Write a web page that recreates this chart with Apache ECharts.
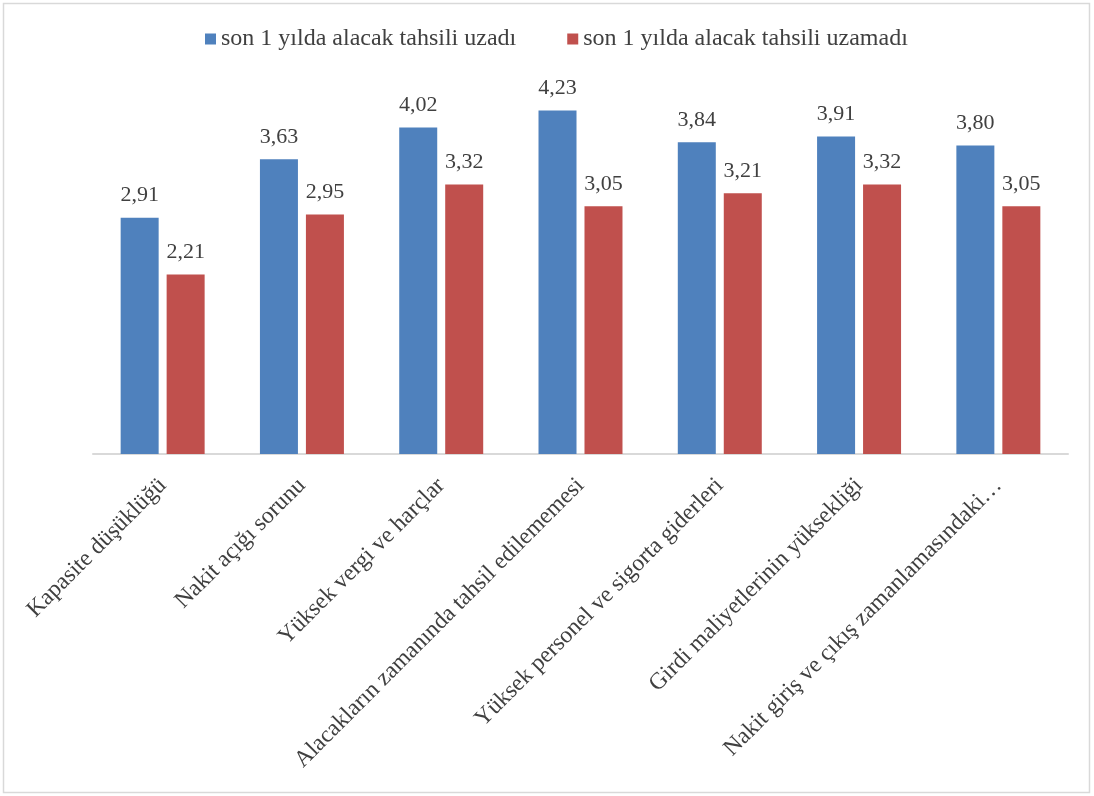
<!DOCTYPE html>
<html>
<head>
<meta charset="utf-8">
<script src="https://cdn.jsdelivr.net/npm/echarts@6/dist/echarts.min.js"></script>
<style>
  html, body { margin: 0; padding: 0; background: #fff; }
  #chart { width: 1094px; height: 796px; }
</style>
</head>
<body>
<div id="chart"></div>
<script>
// Reasons for financial difficulty, by whether receivable collection got longer in the last year
const categories = [
  'Kapasite düşüklüğü',
  'Nakit açığı sorunu',
  'Yüksek vergi ve harçlar',
  'Alacakların zamanında tahsil edilememesi',
  'Yüksek personel ve sigorta giderleri',
  'Girdi maliyetlerinin yüksekliği',
  'Nakit giriş ve çıkış zamanlamasındaki…'
];
const seriesNames = ['son 1 yılda alacak tahsili uzadı', 'son 1 yılda alacak tahsili uzamadı'];
const uzadi = [2.91, 3.63, 4.02, 4.23, 3.84, 3.91, 3.80];
const uzamadi = [2.21, 2.95, 3.32, 3.05, 3.21, 3.32, 3.05];

const serif = '"Liberation Serif", "Times New Roman", serif';
const textColor = '#404040';

const chart = echarts.init(document.getElementById('chart'));

const labelOpt = {
  show: true,
  position: 'top',
  distance: 11,
  color: textColor,
  fontFamily: serif,
  fontSize: 22,
  formatter: p => p.value.toFixed(2).replace('.', ',')
};

chart.setOption({
  backgroundColor: '#fff',
  animation: false,
  graphic: [{
    type: 'rect',
    shape: { x: 3.5, y: 3.5, width: 1086, height: 789 },
    style: { fill: 'none', stroke: '#d9d9d9', lineWidth: 1.5 },
    silent: true
  }],
  legend: {
    top: 22,
    left: 200,
    itemWidth: 11,
    itemHeight: 11,
    itemGap: 51,
    icon: 'rect',
    textStyle: { color: textColor, fontFamily: serif, fontSize: 24 },
    data: seriesNames
  },
  grid: { left: 93, right: 26, top: 48, bottom: 342, containLabel: false },
  xAxis: {
    type: 'category',
    data: categories,
    axisLine: { show: true, lineStyle: { color: '#d9d9d9', width: 2 } },
    axisTick: { show: false },
    axisLabel: {
      interval: 0,
      rotate: 45,
      margin: 28,
      color: textColor,
      fontFamily: serif,
      fontSize: 23.5
    }
  },
  yAxis: {
    type: 'value',
    min: 0,
    max: 5,
    show: false,
    splitLine: { show: false }
  },
  series: [
    {
      name: seriesNames[0],
      type: 'bar',
      data: uzadi,
      barWidth: 38,
      barGap: '21%',
      itemStyle: { color: '#4F81BD' },
      label: labelOpt
    },
    {
      name: seriesNames[1],
      type: 'bar',
      data: uzamadi,
      barWidth: 38,
      itemStyle: { color: '#C0504D' },
      label: labelOpt
    }
  ]
});
</script>
</body>
</html>
